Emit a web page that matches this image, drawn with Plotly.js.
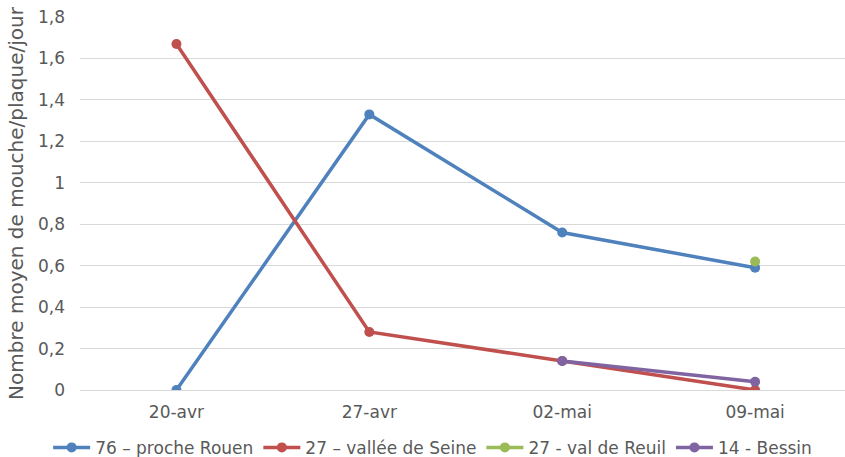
<!DOCTYPE html>
<html>
<head>
<meta charset="utf-8">
<script src="https://cdn.plot.ly/plotly-3.0.1.min.js"></script>
<style>html,body{margin:0;padding:0;overflow:hidden;background:#fff}</style>
</head>
<body>
<div id="chart" style="width:845px;height:457px"></div>
<script>
const categories = ["20-avr", "27-avr", "02-mai", "09-mai"];
const seriesNames = ["76 \u2013 proche Rouen", "27 \u2013 vallée de Seine", "27 - val de Reuil", "14 - Bessin"];
const rouen = [0, 1.33, 0.76, 0.59];
const valleeSeine = [1.67, 0.28, 0.14, 0];
const valReuil = [null, null, null, 0.62];
const bessin = [null, null, 0.14, 0.04];
const colors = ["#4F81BD", "#C0504D", "#9BBB59", "#8064A2"];

const values = [rouen, valleeSeine, valReuil, bessin];
const traces = values.map((v, i) => ({
  x: categories,
  y: v,
  name: seriesNames[i],
  type: "scatter",
  mode: "lines+markers",
  line: {color: colors[i], width: 3.5},
  marker: {color: colors[i], size: 10},
  connectgaps: false,
  hoverinfo: "skip"
}));

const layout = {
  width: 845,
  height: 457,
  margin: {l: 80, r: 0, t: 17, b: 67},
  separators: ", ",
  paper_bgcolor: "#fff",
  plot_bgcolor: "#fff",
  font: {family: "DejaVu Sans, Verdana, sans-serif", color: "#595959", size: 17},
  showlegend: true,
  legend: {
    orientation: "h",
    xref: "container",
    yref: "container",
    x: 0.512, xanchor: "center",
    y: 0.02, yanchor: "middle",
    font: {size: 17, color: "#595959"},
    traceorder: "normal",
    itemwidth: 37
  },
  xaxis: {
    type: "category",
    range: [-0.5, 3.466],
    automargin: false,
    showgrid: false,
    zeroline: false,
    showline: false,
    ticks: "",
    ticklabelstandoff: 10,
    tickfont: {size: 17, color: "#595959"},
    fixedrange: true
  },
  yaxis: {
    range: [0, 1.8],
    automargin: false,
    dtick: 0.2,
    tick0: 0,
    showgrid: true,
    gridcolor: "#D9D9D9",
    gridwidth: 1,
    zeroline: true,
    zerolinecolor: "#D9D9D9",
    zerolinewidth: 1,
    showline: false,
    ticks: "",
    ticklabelstandoff: 14,
    tickfont: {size: 17, color: "#595959"},
    title: {text: "Nombre moyen de mouche/plaque/jour", font: {size: 20, color: "#595959"}, standoff: 8},
    fixedrange: true
  }
};

Plotly.newPlot("chart", traces, layout, {displayModeBar: false, staticPlot: true});
</script>
</body>
</html>
